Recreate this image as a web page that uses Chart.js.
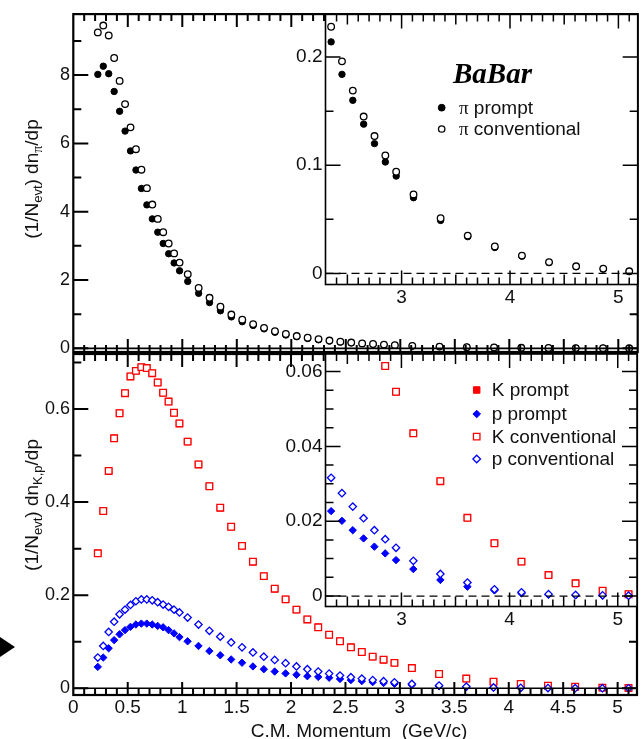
<!DOCTYPE html>
<html lang="en">
<head>
<meta charset="UTF-8">
<title>BaBar momentum spectra</title>
<script src="https://cdn.jsdelivr.net/npm/chart.js@4.4.0/dist/chart.umd.min.js"></script>
<style>
  body { margin: 0; background: #fff; }
  #wrap { position: relative; width: 643px; height: 739px; }
  #wrap canvas { position: absolute; left: 0; top: 0; }
</style>
</head>
<body>
<div id="wrap">
  <canvas id="piMain" width="643" height="739"></canvas>
  <canvas id="kpMain" width="643" height="739"></canvas>
  <canvas id="piInset" width="643" height="739"></canvas>
  <canvas id="kpInset" width="643" height="739"></canvas>
</div>
<script>
// bin centres, C.M. momentum in GeV/c
const momentum = [0.225, 0.275, 0.325, 0.375, 0.425, 0.475, 0.525, 0.575, 0.625, 0.675, 0.725, 0.775, 0.825, 0.875, 0.925, 0.975,
  1.05, 1.15, 1.25, 1.35, 1.45, 1.55, 1.65, 1.75, 1.85, 1.95, 2.05, 2.15, 2.25, 2.35, 2.45, 2.55, 2.65, 2.75, 2.85, 2.95,
  3.11, 3.36, 3.61, 3.86, 4.11, 4.36, 4.61, 4.86, 5.1];

// (1/Nevt) dn/dp per species
const piPrompt = [8.02, 8.26, 8.04, 7.52, 6.94, 6.36, 5.78, 5.22, 4.68, 4.20, 3.79, 3.40, 3.07, 2.77, 2.50, 2.27,
  1.96, 1.61, 1.34, 1.10, 0.92, 0.78, 0.67, 0.57, 0.47, 0.39, 0.34, 0.29, 0.25, 0.214, 0.184, 0.160, 0.138, 0.120, 0.103, 0.090,
  0.070, 0.049, 0.034, 0.024, 0.016, 0.010, 0.0062, 0.004, 0.0018];
const piConv = [9.25, 9.45, 9.16, 8.50, 7.83, 7.15, 6.47, 5.83, 5.23, 4.69, 4.21, 3.79, 3.40, 3.07, 2.78, 2.51,
  2.17, 1.77, 1.48, 1.22, 0.99, 0.84, 0.71, 0.60, 0.50, 0.42, 0.36, 0.31, 0.27, 0.228, 0.196, 0.169, 0.145, 0.127, 0.109, 0.094,
  0.073, 0.051, 0.035, 0.025, 0.0165, 0.0105, 0.0066, 0.0045, 0.002];
const kPrompt = [0.290, 0.381, 0.467, 0.537, 0.591, 0.634, 0.670, 0.682, 0.690, 0.688, 0.677, 0.657, 0.635, 0.616, 0.592, 0.569,
  0.530, 0.481, 0.434, 0.388, 0.347, 0.306, 0.272, 0.241, 0.214, 0.191, 0.169, 0.148, 0.131, 0.115, 0.101, 0.088, 0.078, 0.068, 0.0615, 0.0546,
  0.0435, 0.0307, 0.0209, 0.0141, 0.0092, 0.0056, 0.0034, 0.0014, 0.0005];
const kConv = [0.290, 0.381, 0.467, 0.537, 0.591, 0.634, 0.670, 0.682, 0.690, 0.688, 0.677, 0.657, 0.635, 0.616, 0.592, 0.569,
  0.530, 0.481, 0.434, 0.388, 0.347, 0.306, 0.272, 0.241, 0.214, 0.191, 0.169, 0.148, 0.131, 0.115, 0.101, 0.088, 0.078, 0.068, 0.0615, 0.0546,
  0.0435, 0.0307, 0.0209, 0.0141, 0.0092, 0.0056, 0.0034, 0.0014, 0.0005];
const pPrompt = [0.046, 0.066, 0.086, 0.1035, 0.116, 0.125, 0.132, 0.137, 0.139, 0.139, 0.137, 0.134, 0.131, 0.125, 0.118, 0.110,
  0.101, 0.091, 0.080, 0.071, 0.062, 0.055, 0.047, 0.041, 0.036, 0.032, 0.029, 0.026, 0.0245, 0.0227, 0.0201, 0.0176, 0.0154, 0.0132, 0.0114, 0.0096,
  0.0072, 0.0043, 0.0025, 0.0015, 0.0007, 0.0003, 0.0002, 0.0001, 0.0];
const pConv = [0.066, 0.091, 0.121, 0.143, 0.159, 0.169, 0.179, 0.187, 0.191, 0.191, 0.189, 0.185, 0.180, 0.175, 0.169, 0.163,
  0.152, 0.137, 0.1235, 0.111, 0.0985, 0.088, 0.077, 0.068, 0.061, 0.054, 0.047, 0.041, 0.036, 0.0316, 0.0275, 0.0239, 0.0208, 0.0176, 0.0152, 0.0129,
  0.0094, 0.0059, 0.0036, 0.0018, 0.0010, 0.0005, 0.0003, 0.0002, 0.0001];

// labelled ticks
const mainXTicks = [0, 0.5, 1, 1.5, 2, 2.5, 3, 3.5, 4, 4.5, 5];
const insetXTicks = [3, 4, 5];
const piMainYTicks = [0, 2, 4, 6, 8];
const kpMainYTicks = [0, 0.2, 0.4, 0.6];
const piInsetYTicks = [0, 0.1, 0.2];
const kpInsetYTicks = [0, 0.02, 0.04, 0.06];

const W = 643, H = 739;
const SANS = "'Liberation Sans', Arial, Helvetica, sans-serif";
const SERIF = "'Liberation Serif', 'Times New Roman', serif";
const RED = '#ff0000', BLUE = '#0000ff', INK = '#111';

Chart.defaults.font.family = SANS;
Chart.defaults.color = INK;

function points(ys) {
  return momentum.map((x, i) => ({ x, y: ys[i] }));
}

function stepValues(min, max, step) {
  const out = [];
  for (let k = Math.ceil(min / step - 1e-9); k * step <= max + 1e-9; k++) out.push(k * step);
  return out;
}

// ROOT-like frame: box, inward ticks on all four sides, optional zero line
const rootFrame = {
  id: 'rootFrame',
  beforeDraw(chart, args, o) {
    if (!o.fill) return;
    const a = chart.chartArea, ctx = chart.ctx;
    ctx.save();
    ctx.fillStyle = '#fff';
    ctx.fillRect(a.left, a.top, a.right - a.left, a.bottom - a.top);
    ctx.restore();
  },
  afterDatasetsDraw(chart, args, o) {
    const { ctx, chartArea: a, scales: { x, y } } = chart;
    ctx.save();
    ctx.strokeStyle = '#000';
    if (o.zero) {
      const y0 = y.getPixelForValue(0);
      ctx.lineWidth = o.zero === 'dashed' ? 1.2 : 1.6;
      ctx.setLineDash(o.zero === 'dashed' ? [8, 5] : []);
      ctx.beginPath();
      ctx.moveTo(a.left, y0);
      ctx.lineTo(a.right, y0);
      ctx.stroke();
      ctx.setLineDash([]);
    }
    ctx.lineWidth = o.tickWidth;
    ctx.beginPath();
    o.x.forEach(t => {
      stepValues(x.min, x.max, t.step).forEach(v => {
        const px = x.getPixelForValue(v);
        if (px < a.left + 1 || px > a.right - 1) return;
        ctx.moveTo(px, a.bottom); ctx.lineTo(px, a.bottom - t.len);
        ctx.moveTo(px, a.top); ctx.lineTo(px, a.top + t.len);
      });
    });
    o.y.forEach(t => {
      stepValues(y.min, y.max, t.step).forEach(v => {
        const py = y.getPixelForValue(v);
        if (py < a.top + 1 || py > a.bottom - 1) return;
        ctx.moveTo(a.left, py); ctx.lineTo(a.left + t.len, py);
        ctx.moveTo(a.right, py); ctx.lineTo(a.right - t.len, py);
      });
    });
    ctx.stroke();
    ctx.lineWidth = o.frameWidth;
    ctx.strokeRect(a.left, a.top, a.right - a.left, a.bottom - a.top);
    ctx.restore();
  }
};

// text made of runs: [text, font, baseline shift]
function drawRuns(ctx, runs, x, y, align) {
  let total = 0;
  runs.forEach(r => { ctx.font = r[1]; total += ctx.measureText(r[0]).width; });
  let cx = align === 'center' ? x - total / 2 : x;
  ctx.textAlign = 'left';
  ctx.textBaseline = 'alphabetic';
  runs.forEach(r => {
    ctx.font = r[1];
    ctx.fillText(r[0], cx, y + (r[2] || 0));
    cx += ctx.measureText(r[0]).width;
  });
}

function yTitle(ctx, runs, x, cy) {
  ctx.save();
  ctx.translate(x, cy);
  ctx.rotate(-Math.PI / 2);
  ctx.fillStyle = INK;
  drawRuns(ctx, runs, 0, 0, 'center');
  ctx.restore();
}

function legendMark(ctx, style, x, y, r, color, filled) {
  ctx.beginPath();
  if (style === 'circle') {
    ctx.arc(x, y, r, 0, Math.PI * 2);
  } else if (style === 'rect') {
    const s = r * Math.SQRT1_2;
    ctx.rect(x - s, y - s, 2 * s, 2 * s);
  } else {
    ctx.moveTo(x - r, y); ctx.lineTo(x, y - r); ctx.lineTo(x + r, y); ctx.lineTo(x, y + r); ctx.closePath();
  }
  ctx.fillStyle = filled ? color : '#fff';
  ctx.fill();
  ctx.strokeStyle = color;
  ctx.lineWidth = filled ? 1 : 1.3;
  ctx.stroke();
}

const big = '19px ' + SANS, sub = '13px ' + SANS;

const piMainText = {
  id: 'piMainText',
  afterDraw(chart) {
    yTitle(chart.ctx, [['(1/N', big], ['evt', sub, 4], [') dn', big], ['\u03c0', '14px ' + SERIF, 4], ['/dp', big]], 38, 179);
  }
};

const kpMainText = {
  id: 'kpMainText',
  afterDraw(chart) {
    const ctx = chart.ctx;
    yTitle(ctx, [['(1/N', big], ['evt', sub, 4], [') dn', big], ['K,p', sub, 4], ['/dp', big]], 38, 505);
    ctx.save();
    ctx.fillStyle = INK;
    drawRuns(ctx, [['C.M. Momentum  (GeV/c)', big]], 359, 737, 'center');
    // pointer at the left margin
    ctx.fillStyle = '#000';
    ctx.beginPath();
    ctx.moveTo(0, 637); ctx.lineTo(15, 647); ctx.lineTo(0, 657); ctx.closePath();
    ctx.fill();
    ctx.restore();
  }
};

const piInsetText = {
  id: 'piInsetText',
  afterDraw(chart) {
    const ctx = chart.ctx;
    ctx.save();
    ctx.fillStyle = '#000';
    drawRuns(ctx, [['BaBar', 'italic bold 29px ' + SERIF]], 453, 83, 'left');
    legendMark(ctx, 'circle', 441.7, 107.7, 3.4, '#000', true);
    legendMark(ctx, 'circle', 441.7, 129, 3.2, '#000', false);
    ctx.fillStyle = INK;
    drawRuns(ctx, [['\u03c0', '19px ' + SERIF], [' prompt', big]], 459, 113.5, 'left');
    drawRuns(ctx, [['\u03c0', '19px ' + SERIF], [' conventional', big]], 459, 135, 'left');
    ctx.restore();
  }
};

const kpInsetText = {
  id: 'kpInsetText',
  afterDraw(chart) {
    const ctx = chart.ctx;
    ctx.save();
    legendMark(ctx, 'rect', 476.7, 390, 4.6, RED, true);
    legendMark(ctx, 'rectRot', 476.7, 414, 3.8, BLUE, true);
    legendMark(ctx, 'rect', 476.7, 436.7, 4.6, RED, false);
    legendMark(ctx, 'rectRot', 476.7, 459, 3.8, BLUE, false);
    ctx.fillStyle = INK;
    drawRuns(ctx, [['K prompt', big]], 491.7, 396, 'left');
    drawRuns(ctx, [['p prompt', big]], 491.7, 419.5, 'left');
    drawRuns(ctx, [['K conventional', big]], 491.7, 442.5, 'left');
    drawRuns(ctx, [['p conventional', big]], 491.7, 465, 'left');
    ctx.restore();
  }
};

function series(label, ys, style, color, filled, radius, order) {
  return {
    label, data: points(ys), order,
    pointStyle: style, pointRadius: radius,
    pointBackgroundColor: filled ? color : '#fff',
    pointBorderColor: color,
    pointBorderWidth: filled ? 1 : 1.3,
    showLine: false
  };
}

function piSets() {
  return [
    series('\u03c0 conventional', piConv, 'circle', '#000', false, 3.3, 0),
    series('\u03c0 prompt', piPrompt, 'circle', '#000', true, 3.2, 1)
  ];
}

function kpSets() {
  return [
    series('p conventional', pConv, 'rectRot', BLUE, false, 3.7, 0),
    series('K conventional', kConv, 'rect', RED, false, 4.7, 1),
    series('p prompt', pPrompt, 'rectRot', BLUE, true, 3.7, 2),
    series('K prompt', kPrompt, 'rect', RED, true, 4.5, 3)
  ];
}

function axis(range, labels, fontSize, pad, showLabels) {
  return {
    type: 'linear', min: range[0], max: range[1],
    grid: { display: false, drawTicks: false },
    border: { display: false },
    afterBuildTicks: s => { s.ticks = labels.map(v => ({ value: v })); },
    ticks: { display: showLabels, autoSkip: false, padding: pad, font: { size: fontSize }, callback: v => String(v) }
  };
}

// box = plot frame in page pixels; the axes get fixed bands so the frame lands exactly there
function makeChart(id, box, bands, xAxis, yAxis, datasets, frame, clip, extra) {
  datasets.forEach(d => { d.clip = clip; });
  xAxis.afterFit = s => { s.height = bands.x; };
  yAxis.afterFit = s => { s.width = bands.y; };
  return new Chart(document.getElementById(id), {
    type: 'scatter',
    data: { datasets },
    options: {
      responsive: false,
      animation: false,
      events: [],
      layout: { padding: { left: box.left - bands.y, top: box.top, right: W - box.right, bottom: H - box.bottom - bands.x } },
      plugins: { legend: { display: false }, tooltip: { enabled: false }, rootFrame: frame },
      scales: { x: xAxis, y: yAxis }
    },
    plugins: [rootFrame, extra]
  });
}

const mainX = [{ step: 0.1, len: 7 }, { step: 0.5, len: 13 }];
const insetX = [{ step: 0.1, len: 7 }, { step: 0.5, len: 10 }, { step: 1, len: 14 }];

makeChart('piMain', { left: 73.3, top: 10, right: 641.5, bottom: 352 }, { x: 30, y: 60 },
  axis([0, 5.178], mainXTicks, 19, 1.2, false),
  axis([-0.107, 9.785], piMainYTicks, 18, 3.3, true),
  piSets(),
  { frameWidth: 2.2, tickWidth: 2, zero: 'solid', x: mainX, y: [{ step: 1, len: 8 }, { step: 2, len: 15 }] },
  6, piMainText);

makeChart('kpMain', { left: 73.3, top: 354, right: 641.5, bottom: 695 }, { x: 30, y: 60 },
  axis([0, 5.178], mainXTicks, 19, 1.2, true),
  axis([-0.0144, 0.7182], kpMainYTicks, 18, 3.3, true),
  kpSets(),
  { frameWidth: 2.2, tickWidth: 2, zero: 'solid', x: mainX, y: [{ step: 0.1, len: 8 }, { step: 0.2, len: 15 }] },
  6, kpMainText);

makeChart('piInset', { left: 325.5, top: 10, right: 641.5, bottom: 284.5 }, { x: 30, y: 50 },
  axis([2.298, 5.178], insetXTicks, 19, 1.5, true),
  axis([-0.0102, 0.2394], piInsetYTicks, 19, 3, true),
  piSets(),
  { fill: true, frameWidth: 1.6, tickWidth: 1.5, zero: 'dashed', x: insetX, y: [{ step: 0.05, len: 8 }, { step: 0.1, len: 15 }] },
  0, piInsetText);

makeChart('kpInset', { left: 325.5, top: 354, right: 641.5, bottom: 606.5 }, { x: 30, y: 50 },
  axis([2.298, 5.178], insetXTicks, 19, 1.5, true),
  axis([-0.0028, 0.0647], kpInsetYTicks, 19, 3, true),
  kpSets(),
  { fill: true, frameWidth: 1.6, tickWidth: 1.5, zero: 'dashed', x: insetX, y: [{ step: 0.005, len: 8 }, { step: 0.02, len: 15 }] },
  0, kpInsetText);
</script>
</body>
</html>
